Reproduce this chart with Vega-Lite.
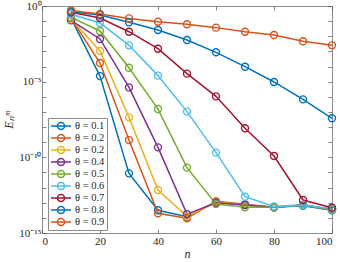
{
  "$schema": "https://vega.github.io/schema/vega-lite/v6.json",
  "width": 290,
  "height": 227,
  "autosize": {"type": "none"},
  "padding": {"left": 42, "top": 6, "right": 8, "bottom": 29},
  "background": "white",
  "config": {
    "view": {"stroke": "#8c8c8c", "strokeWidth": 1},
    "axis": {
      "labelFont": "Liberation Serif",
      "labelFontSize": 11,
      "labelColor": "#262626",
      "titleFont": "Liberation Serif",
      "titleColor": "#262626",
      "titleFontWeight": "normal",
      "tickColor": "#555555",
      "tickSize": -4,
      "tickWidth": 0.7,
      "domain": false,
      "grid": false
    }
  },
  "data": {
    "values": [
      {"n": 10, "t": "0.1", "E": 0.158}, {"n": 20, "t": "0.1", "E": 2.34e-5}, {"n": 30, "t": "0.1", "E": 8.71e-12}, {"n": 40, "t": "0.1", "E": 3.16e-14}, {"n": 50, "t": "0.1", "E": 1.2e-14}, {"n": 60, "t": "0.1", "E": 1.12e-13}, {"n": 70, "t": "0.1", "E": 7.08e-14}, {"n": 80, "t": "0.1", "E": 5.01e-14}, {"n": 90, "t": "0.1", "E": 6.31e-14}, {"n": 100, "t": "0.1", "E": 3.16e-14},
      {"n": 10, "t": "0.2", "E": 0.158}, {"n": 20, "t": "0.2", "E": 1.7e-4}, {"n": 30, "t": "0.2", "E": 1.38e-9}, {"n": 40, "t": "0.2", "E": 2.0e-14}, {"n": 50, "t": "0.2", "E": 9.33e-15}, {"n": 60, "t": "0.2", "E": 1.26e-13}, {"n": 70, "t": "0.2", "E": 7.94e-14}, {"n": 80, "t": "0.2", "E": 5.01e-14}, {"n": 90, "t": "0.2", "E": 7.08e-14}, {"n": 100, "t": "0.2", "E": 3.55e-14},
      {"n": 10, "t": "0.3", "E": 0.141}, {"n": 20, "t": "0.3", "E": 1.07e-3}, {"n": 30, "t": "0.3", "E": 4.37e-8}, {"n": 40, "t": "0.3", "E": 6.92e-13}, {"n": 50, "t": "0.3", "E": 1.26e-14}, {"n": 60, "t": "0.3", "E": 1.12e-13}, {"n": 70, "t": "0.3", "E": 7.08e-14}, {"n": 80, "t": "0.3", "E": 5.01e-14}, {"n": 90, "t": "0.3", "E": 7.08e-14}, {"n": 100, "t": "0.3", "E": 3.55e-14},
      {"n": 10, "t": "0.4", "E": 0.112}, {"n": 20, "t": "0.4", "E": 6.61e-3}, {"n": 30, "t": "0.4", "E": 4.17e-6}, {"n": 40, "t": "0.4", "E": 4.57e-10}, {"n": 50, "t": "0.4", "E": 1.78e-14}, {"n": 60, "t": "0.4", "E": 1.0e-13}, {"n": 70, "t": "0.4", "E": 7.08e-14}, {"n": 80, "t": "0.4", "E": 5.01e-14}, {"n": 90, "t": "0.4", "E": 7.08e-14}, {"n": 100, "t": "0.4", "E": 3.55e-14},
      {"n": 10, "t": "0.5", "E": 0.178}, {"n": 20, "t": "0.5", "E": 0.0224}, {"n": 30, "t": "0.5", "E": 8.32e-5}, {"n": 40, "t": "0.5", "E": 1.55e-7}, {"n": 50, "t": "0.5", "E": 2.09e-11}, {"n": 60, "t": "0.5", "E": 8.13e-14}, {"n": 70, "t": "0.5", "E": 5.01e-14}, {"n": 80, "t": "0.5", "E": 5.01e-14}, {"n": 90, "t": "0.5", "E": 7.08e-14}, {"n": 100, "t": "0.5", "E": 3.55e-14},
      {"n": 10, "t": "0.6", "E": 0.282}, {"n": 20, "t": "0.6", "E": 0.0759}, {"n": 30, "t": "0.6", "E": 2.51e-3}, {"n": 40, "t": "0.6", "E": 2.51e-5}, {"n": 50, "t": "0.6", "E": 1.05e-7}, {"n": 60, "t": "0.6", "E": 2.04e-10}, {"n": 70, "t": "0.6", "E": 2.51e-13}, {"n": 80, "t": "0.6", "E": 5.75e-14}, {"n": 90, "t": "0.6", "E": 7.08e-14}, {"n": 100, "t": "0.6", "E": 3.98e-14},
      {"n": 10, "t": "0.7", "E": 0.38}, {"n": 20, "t": "0.7", "E": 0.162}, {"n": 30, "t": "0.7", "E": 0.02}, {"n": 40, "t": "0.7", "E": 1.51e-3}, {"n": 50, "t": "0.7", "E": 3.39e-5}, {"n": 60, "t": "0.7", "E": 1.07e-6}, {"n": 70, "t": "0.7", "E": 8.32e-9}, {"n": 80, "t": "0.7", "E": 1.23e-10}, {"n": 90, "t": "0.7", "E": 1.51e-13}, {"n": 100, "t": "0.7", "E": 4.68e-14},
      {"n": 10, "t": "0.8", "E": 0.417}, {"n": 20, "t": "0.8", "E": 0.251}, {"n": 30, "t": "0.8", "E": 0.0832}, {"n": 40, "t": "0.8", "E": 0.0257}, {"n": 50, "t": "0.8", "E": 5.62e-3}, {"n": 60, "t": "0.8", "E": 8.71e-4}, {"n": 70, "t": "0.8", "E": 9.77e-5}, {"n": 80, "t": "0.8", "E": 9.55e-6}, {"n": 90, "t": "0.8", "E": 6.76e-7}, {"n": 100, "t": "0.8", "E": 3.8e-8},
      {"n": 10, "t": "0.9", "E": 0.501}, {"n": 20, "t": "0.9", "E": 0.295}, {"n": 30, "t": "0.9", "E": 0.151}, {"n": 40, "t": "0.9", "E": 0.0912}, {"n": 50, "t": "0.9", "E": 0.0617}, {"n": 60, "t": "0.9", "E": 0.0372}, {"n": 70, "t": "0.9", "E": 0.02}, {"n": 80, "t": "0.9", "E": 0.012}, {"n": 90, "t": "0.9", "E": 4.68e-3}, {"n": 100, "t": "0.9", "E": 2.51e-3}
    ]
  },
  "layer": [
    {
      "mark": {"type": "line", "strokeWidth": 1.5, "point": {"filled": false, "size": 49, "strokeWidth": 1.4}},
      "encoding": {
        "x": {
          "field": "n", "type": "quantitative",
          "scale": {"domain": [0, 100], "nice": false},
          "axis": {"values": [0, 20, 40, 60, 80, 100], "labelOverlap": false, "title": "n", "titleFontStyle": "italic", "titleFontSize": 12, "titlePadding": 2, "labelPadding": 6}
        },
        "y": {
          "field": "E", "type": "quantitative",
          "scale": {"type": "log", "domain": [1e-15, 1], "nice": false},
          "axis": {
            "values": [1, 1e-1, 1e-2, 1e-3, 1e-4, 1e-5, 1e-6, 1e-7, 1e-8, 1e-9, 1e-10, 1e-11, 1e-12, 1e-13, 1e-14, 1e-15],
            "labelExpr": "abs(log(datum.value)/LN10) < 0.01 ? '10⁰' : abs(log(datum.value)/LN10 + 5) < 0.01 ? '10⁻⁵' : abs(log(datum.value)/LN10 + 10) < 0.01 ? '10⁻¹⁰' : abs(log(datum.value)/LN10 + 15) < 0.01 ? '10⁻¹⁵' : ''",
            "labelOverlap": false,
            "labelPadding": 5,
            "title": "Eₙᵐ", "titleFontStyle": "italic", "titleFontSize": 12, "titlePadding": 3
          }
        },
        "color": {
          "field": "t", "type": "nominal",
          "scale": {
            "domain": ["0.1", "0.2", "0.3", "0.4", "0.5", "0.6", "0.7", "0.8", "0.9"],
            "range": ["#0072BD", "#D95319", "#EDB120", "#7E2F8E", "#77AC30", "#4DBEEE", "#A2142F", "#0072BD", "#D95319"]
          },
          "legend": {
            "orient": "none", "legendX": 6, "legendY": 112,
            "title": null,
            "strokeColor": "#8c8c8c", "fillColor": "white", "padding": 2, "cornerRadius": 0,
            "symbolType": "M-2,0H2M0.7,0A0.7,0.7 0 1,1 -0.7,0A0.7,0.7 0 1,1 0.7,0",
            "symbolSize": 100, "symbolStrokeWidth": 1.5, "symbolFillColor": "transparent",
            "symbolOffset": 5,
            "labelFont": "Liberation Serif", "labelFontSize": 10.5, "labelColor": "#262626", "labelOffset": 8,
            "rowPadding": 0,
            "clipHeight": 12,
            "labelExpr": "datum.label == '0.3' ? 'θ = 0.2' : 'θ = ' + datum.label"
          }
        }
      }
    },
    {
      "mark": {"type": "point", "opacity": 0},
      "encoding": {
        "x": {"field": "n", "type": "quantitative", "axis": {"orient": "top", "values": [0, 20, 40, 60, 80, 100], "labels": false, "title": null}},
        "y": {"field": "E", "type": "quantitative", "axis": {"orient": "right", "values": [1, 1e-1, 1e-2, 1e-3, 1e-4, 1e-5, 1e-6, 1e-7, 1e-8, 1e-9, 1e-10, 1e-11, 1e-12, 1e-13, 1e-14, 1e-15], "labels": false, "title": null}}
      }
    }
  ],
  "resolve": {"axis": {"x": "independent", "y": "independent"}}
}
